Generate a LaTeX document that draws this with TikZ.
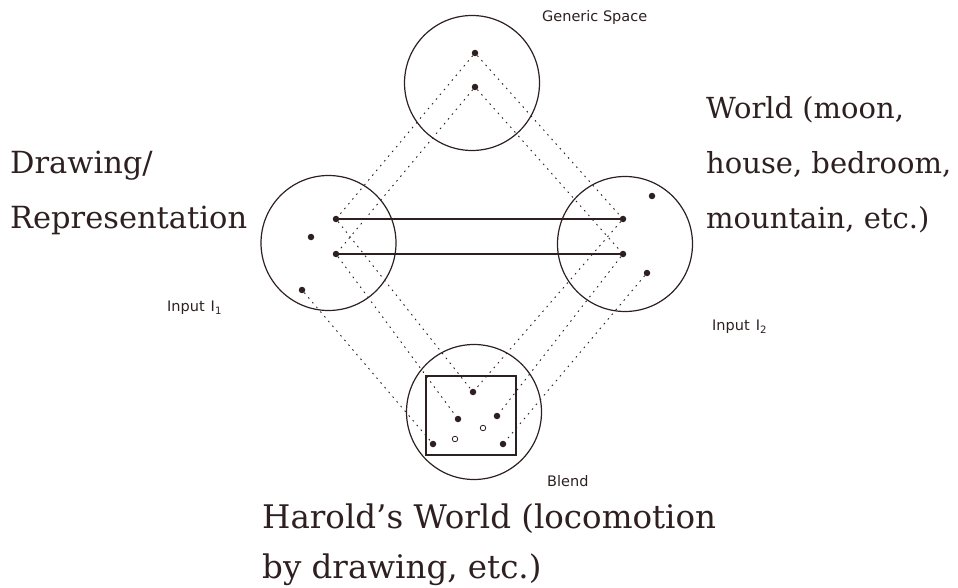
\documentclass[tikz,border=0pt]{standalone}
\usepackage{fontspec}
\setmainfont{DejaVu Serif}
\newfontfamily\smallsans{DejaVu Sans}
\definecolor{ink}{HTML}{2E2020}

\begin{document}
\begin{tikzpicture}[x=1pt,y=-1pt,color=ink,
  space/.style={draw,circle,line width=1.2pt,minimum size=135pt,inner sep=0pt},
  elem/.style={circle,fill,inner sep=0pt,minimum size=6.5pt},
  oelem/.style={circle,draw,fill=white,inner sep=0pt,minimum size=5.5pt,line width=0.8pt},
  map/.style={line width=0.9pt,dash pattern=on 1.6pt off 4.6pt},
  link/.style={line width=1.2pt},
  tag/.style={font=\smallsans\fontsize{14.5}{16}\selectfont,anchor=west,inner sep=0pt},
  big/.style={font=\fontsize{29}{55}\selectfont,align=left,anchor=base west,inner sep=0pt}]
  \useasboundingbox (0,0) rectangle (958,588);
  % the four spaces
  \node[space] (gen) at (472,83) {};
  \node[space] (inl) at (328.5,243) {};
  \node[space] (inr) at (625,244) {};
  \node[space] (bl) at (474,412) {};
  \node[draw,line width=1.2pt,minimum width=90pt,minimum height=79pt,inner sep=0pt] (frame) at (471,415.5) {};
  % elements
  \node[elem] (g1) at (475,53) {};
  \node[elem] (g2) at (475,87) {};
  \node[elem] (l1) at (336,219) {};
  \node[elem] (l2) at (336,254) {};
  \node[elem] (l3) at (311,237) {};
  \node[elem] (l4) at (302,290) {};
  \node[elem] (r1) at (623,219) {};
  \node[elem] (r2) at (623,254) {};
  \node[elem] (r3) at (652,196) {};
  \node[elem] (r4) at (647,273) {};
  \node[elem] (b1) at (473,392) {};
  \node[elem] (b2) at (458,419) {};
  \node[elem] (b3) at (497,416) {};
  \node[elem] (b4) at (433,444) {};
  \node[elem] (b5) at (503,444) {};
  \node[oelem] (o1) at (455,439) {};
  \node[oelem] (o2) at (483,428) {};
  % mappings
  \draw[map] (g1)--(l1); \draw[map] (g1)--(r1);
  \draw[map] (g2)--(l2); \draw[map] (g2)--(r2);
  \draw[map] (l1)--(b1); \draw[map] (r1)--(b1);
  \draw[map] (l2)--(b2); \draw[map] (r2)--(b3);
  \draw[map] (l4)--(b4); \draw[map] (r4)--(b5);
  \draw[link] (l1)--(r1); \draw[link] (l2)--(r2);
  % labels
  \node[tag] (tgen) at (542,18) {Generic Space};
  \node[tag] (tin1) at (167,308) {Input\hspace{6pt}I\textsubscript{1}};
  \node[tag] (tin2) at (712,327) {Input\hspace{6pt}I\textsubscript{2}};
  \node[tag] (tbl) at (547,481) {Blend};
  \node[big,font=\fontsize{30.5}{55}\selectfont] (draw) at (10,229) {Drawing/\\Representation};
  \node[big] (world) at (706,229) {World (moon,\\house, bedroom,\\mountain, etc.)};
  \node[big,font=\fontsize{32.5}{50}\selectfont] (harold) at (262,578) {Harold's World (locomotion\\by drawing, etc.)};
\end{tikzpicture}
\end{document}
